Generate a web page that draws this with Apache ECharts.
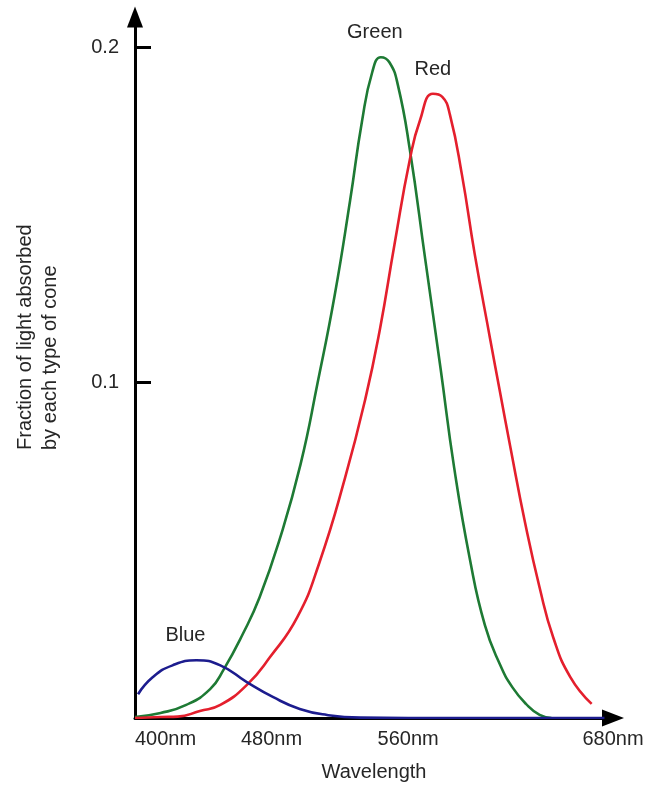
<!DOCTYPE html>
<html>
<head>
<meta charset="utf-8">
<script src="https://cdn.jsdelivr.net/npm/echarts@6/dist/echarts.min.js"></script>
<style>html,body{margin:0;padding:0;background:#fff}#c{width:652px;height:787px}</style>
</head>
<body>
<div id="c"></div>
<script>
// Wavelength (nm) and fraction of light absorbed
var greenData = [[400,0.0003],[415,0.0015],[430,0.0039],[444,0.0086],[452,0.0145],[463,0.0249],[473,0.036],[485,0.0537],[497,0.0757],[507,0.100],[517,0.1261],[526,0.1543],[533,0.1780],[539,0.1926],[544,0.197],[549,0.1955],[554,0.1887],[561,0.1694],[570,0.1368],[579,0.1042],[587,0.0745],[596,0.0478],[605,0.0276],[614,0.0157],[621,0.0092],[629,0.0042],[637,0.0009],[644,0]];
var redData = [[400,0],[415,0.0003],[425,0.0004],[438,0.0021],[450,0.0039],[466,0.0101],[479,0.0181],[495,0.030],[508,0.0463],[523,0.0715],[535,0.0953],[543.5,0.1160],[552,0.1412],[561,0.1665],[567,0.1783],[574.5,0.1861],[580,0.1852],[584.5,0.1798],[591.5,0.162],[599,0.1383],[608,0.1131],[614,0.0967],[620,0.0804],[628.5,0.0582],[637,0.0389],[645,0.024],[655,0.0122],[667.5,0.0042]];
var blueData = [[401.8,0.0071],[410.5,0.0122],[422,0.0157],[436,0.0172],[450,0.0157],[465.5,0.0107],[481,0.0062],[496.5,0.0027],[512.5,0.0009],[532,0.0001],[560,0],[620,0],[675,0]];
var xTickValues = [400, 480, 560, 680];
var yTickValues = [0.1, 0.2];
var seriesNames = ['Green', 'Red', 'Blue'];

var font = 'Liberation Sans, Arial, sans-serif';
var txt = '#262626';
function peakLabel(dx) {
  return {
    symbol: 'circle', symbolSize: 1, itemStyle: {color: 'rgba(0,0,0,0)'},
    label: {show: true, position: 'top', distance: 14, offset: [dx, 0], formatter: '{a}', color: txt, fontSize: 20, fontFamily: font},
    data: [{type: 'max', valueDim: 'y'}]
  };
}
var chart = echarts.init(document.getElementById('c'));
chart.setOption({
  animation: false,
  backgroundColor: '#fff',
  grid: {left: 135, right: 39, top: 17, bottom: 66},
  xAxis: {
    type: 'value', min: 400, max: 680,
    name: 'Wavelength', nameLocation: 'middle', nameGap: 44,
    nameTextStyle: {color: txt, fontSize: 20, fontFamily: font},
    axisLine: {show: true, symbol: ['none', 'triangle'], symbolSize: [17, 22], symbolOffset: [0, 0], lineStyle: {color: '#000', width: 3}},
    axisTick: {show: false},
    splitLine: {show: false},
    axisLabel: {customValues: xTickValues, formatter: function (v) { return v + 'nm'; }, color: txt, fontSize: 20, fontFamily: font, margin: 11, alignMinLabel: 'left', showMinLabel: true, showMaxLabel: true}
  },
  yAxis: {
    type: 'value', min: 0, max: 0.209,
    axisLine: {show: true, symbol: ['none', 'triangle'], symbolSize: [16, 21], symbolOffset: [0, 0], lineStyle: {color: '#000', width: 3}},
    axisTick: {show: true, inside: true, length: 16, customValues: yTickValues, lineStyle: {color: '#000', width: 3}},
    splitLine: {show: false},
    axisLabel: {customValues: yTickValues, color: txt, fontSize: 20, fontFamily: font, margin: 16, padding: [6, 0, 0, 0]}
  },
  graphic: [{
    type: 'text', x: 13, y: 450, rotation: Math.PI / 2,
    style: {text: 'Fraction of light absorbed\nby each type of cone', fill: txt, fontSize: 20, fontFamily: font, lineHeight: 25, align: 'left', verticalAlign: 'top'}
  }],
  series: [
    {name: seriesNames[0], type: 'line', data: greenData, smooth: true, showSymbol: false, lineStyle: {color: '#1e7a34', width: 2.6}, itemStyle: {color: '#1e7a34'}, markPoint: peakLabel(-6), z: 3},
    {name: seriesNames[1], type: 'line', data: redData, smooth: true, showSymbol: false, lineStyle: {color: '#e41f2d', width: 2.6}, itemStyle: {color: '#e41f2d'}, markPoint: peakLabel(0), z: 4},
    {name: seriesNames[2], type: 'line', data: blueData, smooth: true, showSymbol: false, lineStyle: {color: '#1c1c8e', width: 2.6}, itemStyle: {color: '#1c1c8e'}, markPoint: peakLabel(-11), z: 5}
  ]
});
</script>
</body>
</html>
